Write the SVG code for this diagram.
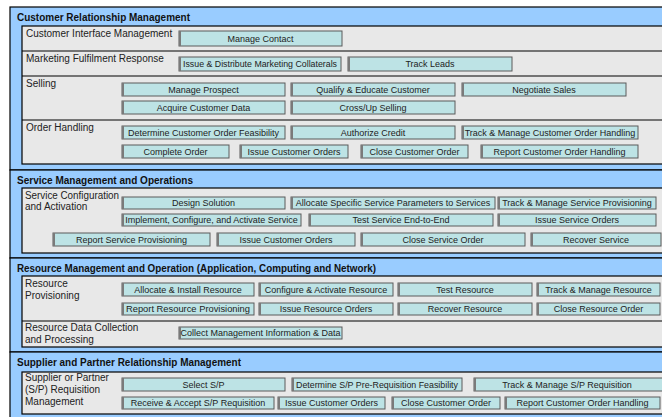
<svg xmlns="http://www.w3.org/2000/svg" width="662" height="417" viewBox="0 0 662 417">
  <style>
    .sec { fill: #99ccff; stroke: #000; stroke-width: 1.2; }
    .inner { fill: #e8e8e8; stroke: #000; stroke-width: 1.2; }
    .sep { stroke: #000; stroke-width: 1.2; }
    .hd { font-family: "Liberation Sans", Arial, sans-serif; font-weight: bold; font-size: 10px; fill: #111; }
    .lb { font-family: "Liberation Sans", Arial, sans-serif; font-size: 10px; fill: #222; }
    .btn rect { fill: #bde3e5; stroke: #5a5a5a; stroke-width: 1; }
    .btn line { stroke: #7a7a7a; stroke-width: 2; }
    .btn text { font-family: "Liberation Sans", Arial, sans-serif; font-size: 9px; fill: #222; text-anchor: middle; }
  </style>

  <!-- section frames -->
  <g id="frames">
    <rect class="sec" x="10" y="7" width="670" height="163"/>
    <rect class="inner" x="22" y="26" width="660" height="138"/>
    <line class="sep" x1="22" y1="51" x2="662" y2="51"/>
    <line class="sep" x1="22" y1="76" x2="662" y2="76"/>
    <line class="sep" x1="22" y1="120" x2="662" y2="120"/>

    <rect class="sec" x="10" y="170" width="670" height="88"/>
    <rect class="inner" x="22" y="188" width="660" height="65"/>

    <rect class="sec" x="10" y="258" width="670" height="94"/>
    <rect class="inner" x="22" y="276" width="660" height="71"/>
    <line class="sep" x1="22" y1="321" x2="662" y2="321"/>

    <rect class="sec" x="10" y="352" width="670" height="70"/>
    <rect class="inner" x="22" y="372" width="660" height="42"/>
  </g>

  <!-- section headings and row labels -->
  <g id="labels">
    <text class="hd" x="17" y="21" textLength="173" lengthAdjust="spacingAndGlyphs">Customer Relationship Management</text>
    <text class="lb" x="26" y="37">Customer Interface Management</text>
    <text class="lb" x="26" y="62">Marketing Fulfilment Response</text>
    <text class="lb" x="26" y="87">Selling</text>
    <text class="lb" x="26" y="131">Order Handling</text>

    <text class="hd" x="17" y="184" textLength="176" lengthAdjust="spacingAndGlyphs">Service Management and Operations</text>
    <text class="lb" x="25" y="199" textLength="94" lengthAdjust="spacingAndGlyphs">Service Configuration</text>
    <text class="lb" x="25" y="210">and Activation</text>

    <text class="hd" x="17" y="272" textLength="359" lengthAdjust="spacingAndGlyphs">Resource Management and Operation (Application, Computing and Network)</text>
    <text class="lb" x="25" y="287">Resource</text>
    <text class="lb" x="25" y="299">Provisioning</text>
    <text class="lb" x="25" y="331">Resource Data Collection</text>
    <text class="lb" x="25" y="343">and Processing</text>

    <text class="hd" x="17" y="366" textLength="224" lengthAdjust="spacingAndGlyphs">Supplier and Partner Relationship Management</text>
    <text class="lb" x="25" y="381">Supplier or Partner</text>
    <text class="lb" x="25" y="393">(S/P) Requisition</text>
    <text class="lb" x="25" y="405">Management</text>
  </g>

  <!-- process boxes: Customer Relationship Management -->
  <g id="crm-manage-contact" class="btn"><rect x="179" y="31" width="163" height="15"/><line x1="180" y1="31" x2="180" y2="46"/><text x="260.5" y="41.5">Manage Contact</text></g>
  <g id="crm-issue-collaterals" class="btn"><rect x="179" y="57" width="162" height="14"/><line x1="180" y1="57" x2="180" y2="71"/><text x="260" y="67" textLength="154" lengthAdjust="spacingAndGlyphs">Issue &amp; Distribute Marketing Collaterals</text></g>
  <g id="crm-track-leads" class="btn"><rect x="348" y="57" width="164" height="14"/><line x1="349" y1="57" x2="349" y2="71"/><text x="430" y="67">Track Leads</text></g>
  <g id="crm-manage-prospect" class="btn"><rect x="122" y="83" width="163" height="13"/><line x1="123" y1="83" x2="123" y2="96"/><text x="203.5" y="92.5">Manage Prospect</text></g>
  <g id="crm-qualify" class="btn"><rect x="291" y="83" width="164" height="13"/><line x1="292" y1="83" x2="292" y2="96"/><text x="373" y="92.5">Qualify &amp; Educate Customer</text></g>
  <g id="crm-negotiate" class="btn"><rect x="462" y="83" width="164" height="13"/><line x1="463" y1="83" x2="463" y2="96"/><text x="544" y="92.5">Negotiate Sales</text></g>
  <g id="crm-acquire-data" class="btn"><rect x="122" y="101" width="163" height="13"/><line x1="123" y1="101" x2="123" y2="114"/><text x="203.5" y="110.5">Acquire Customer Data</text></g>
  <g id="crm-cross-up" class="btn"><rect x="291" y="101" width="164" height="13"/><line x1="292" y1="101" x2="292" y2="114"/><text x="373" y="110.5">Cross/Up Selling</text></g>
  <g id="crm-feasibility" class="btn"><rect x="122" y="126" width="163" height="13"/><line x1="123" y1="126" x2="123" y2="139"/><text x="203.5" y="135.5">Determine Customer Order Feasibility</text></g>
  <g id="crm-authorize" class="btn"><rect x="291" y="126" width="164" height="13"/><line x1="292" y1="126" x2="292" y2="139"/><text x="373" y="135.5">Authorize Credit</text></g>
  <g id="crm-track-order" class="btn"><rect x="462" y="126" width="176" height="13"/><line x1="463" y1="126" x2="463" y2="139"/><text x="550" y="135.5">Track &amp; Manage Customer Order Handling</text></g>
  <g id="crm-complete-order" class="btn"><rect x="122" y="145" width="107" height="13"/><line x1="123" y1="145" x2="123" y2="158"/><text x="175.5" y="154.5">Complete Order</text></g>
  <g id="crm-issue-orders" class="btn"><rect x="240" y="145" width="108" height="13"/><line x1="241" y1="145" x2="241" y2="158"/><text x="294" y="154.5">Issue Customer Orders</text></g>
  <g id="crm-close-order" class="btn"><rect x="361" y="145" width="107" height="13"/><line x1="362" y1="145" x2="362" y2="158"/><text x="414.5" y="154.5">Close Customer Order</text></g>
  <g id="crm-report-order" class="btn"><rect x="481" y="145" width="157" height="13"/><line x1="482" y1="145" x2="482" y2="158"/><text x="559.5" y="154.5">Report Customer Order Handling</text></g>

  <!-- process boxes: Service Management and Operations -->
  <g id="som-design" class="btn"><rect x="122" y="197" width="163" height="12"/><line x1="123" y1="197" x2="123" y2="209"/><text x="203.5" y="206">Design Solution</text></g>
  <g id="som-allocate" class="btn"><rect x="291" y="197" width="204" height="12"/><line x1="292" y1="197" x2="292" y2="209"/><text x="393" y="206">Allocate Specific Service Parameters to Services</text></g>
  <g id="som-track" class="btn"><rect x="498" y="197" width="158" height="12"/><line x1="499" y1="197" x2="499" y2="209"/><text x="577" y="206">Track &amp; Manage Service Provisioning</text></g>
  <g id="som-implement" class="btn"><rect x="122" y="214" width="179" height="12"/><line x1="123" y1="214" x2="123" y2="226"/><text x="211.5" y="223">Implement, Configure, and Activate Service</text></g>
  <g id="som-test" class="btn"><rect x="309" y="214" width="184" height="12"/><line x1="310" y1="214" x2="310" y2="226"/><text x="401" y="223">Test  Service End-to-End</text></g>
  <g id="som-issue-service" class="btn"><rect x="498" y="214" width="158" height="12"/><line x1="499" y1="214" x2="499" y2="226"/><text x="577" y="223">Issue Service Orders</text></g>
  <g id="som-report" class="btn"><rect x="53" y="233" width="157" height="13"/><line x1="54" y1="233" x2="54" y2="246"/><text x="131.5" y="242.5">Report Service Provisioning</text></g>
  <g id="som-issue-customer" class="btn"><rect x="217" y="233" width="138" height="13"/><line x1="218" y1="233" x2="218" y2="246"/><text x="286" y="242.5">Issue Customer Orders</text></g>
  <g id="som-close" class="btn"><rect x="361" y="233" width="164" height="13"/><line x1="362" y1="233" x2="362" y2="246"/><text x="443" y="242.5">Close Service Order</text></g>
  <g id="som-recover" class="btn"><rect x="531" y="233" width="130" height="13"/><line x1="532" y1="233" x2="532" y2="246"/><text x="596" y="242.5">Recover Service</text></g>

  <!-- process boxes: Resource Management and Operation -->
  <g id="rmo-allocate" class="btn"><rect x="122" y="283" width="132" height="13"/><line x1="123" y1="283" x2="123" y2="296"/><text x="188" y="292.5">Allocate &amp; Install Resource</text></g>
  <g id="rmo-configure" class="btn"><rect x="259" y="283" width="134" height="13"/><line x1="260" y1="283" x2="260" y2="296"/><text x="326" y="292.5">Configure &amp; Activate Resource</text></g>
  <g id="rmo-test" class="btn"><rect x="398" y="283" width="134" height="13"/><line x1="399" y1="283" x2="399" y2="296"/><text x="465" y="292.5">Test Resource</text></g>
  <g id="rmo-track" class="btn"><rect x="537" y="283" width="123" height="13"/><line x1="538" y1="283" x2="538" y2="296"/><text x="598.5" y="292.5">Track &amp; Manage Resource</text></g>
  <g id="rmo-report" class="btn"><rect x="122" y="303" width="132" height="12"/><line x1="123" y1="303" x2="123" y2="315"/><text x="188" y="312" textLength="124" lengthAdjust="spacingAndGlyphs">Report Resource Provisioning</text></g>
  <g id="rmo-issue" class="btn"><rect x="259" y="303" width="134" height="12"/><line x1="260" y1="303" x2="260" y2="315"/><text x="326" y="312">Issue Resource Orders</text></g>
  <g id="rmo-recover" class="btn"><rect x="398" y="303" width="134" height="12"/><line x1="399" y1="303" x2="399" y2="315"/><text x="465" y="312">Recover Resource</text></g>
  <g id="rmo-close" class="btn"><rect x="537" y="303" width="123" height="12"/><line x1="538" y1="303" x2="538" y2="315"/><text x="598.5" y="312">Close Resource Order</text></g>
  <g id="rmo-collect" class="btn"><rect x="179" y="327" width="163" height="12"/><line x1="180" y1="327" x2="180" y2="339"/><text x="260.5" y="336">Collect Management Information &amp; Data</text></g>

  <!-- process boxes: Supplier and Partner Relationship Management -->
  <g id="sprm-select" class="btn"><rect x="122" y="378" width="163" height="13"/><line x1="123" y1="378" x2="123" y2="391"/><text x="203.5" y="387.5">Select S/P</text></g>
  <g id="sprm-determine" class="btn"><rect x="292" y="378" width="170" height="13"/><line x1="293" y1="378" x2="293" y2="391"/><text x="377" y="387.5" textLength="162" lengthAdjust="spacingAndGlyphs">Determine S/P Pre-Requisition Feasibility</text></g>
  <g id="sprm-track" class="btn"><rect x="474" y="378" width="192" height="13"/><line x1="475" y1="378" x2="475" y2="391"/><text x="567" y="387.5">Track &amp; Manage S/P Requisition</text></g>
  <g id="sprm-receive" class="btn"><rect x="122" y="397" width="152" height="12"/><line x1="123" y1="397" x2="123" y2="409"/><text x="198" y="406">Receive &amp; Accept  S/P Requisition</text></g>
  <g id="sprm-issue" class="btn"><rect x="278" y="397" width="107" height="12"/><line x1="279" y1="397" x2="279" y2="409"/><text x="331.5" y="406">Issue Customer Orders</text></g>
  <g id="sprm-close" class="btn"><rect x="392" y="397" width="108" height="12"/><line x1="393" y1="397" x2="393" y2="409"/><text x="446" y="406">Close Customer Order</text></g>
  <g id="sprm-report" class="btn"><rect x="505" y="397" width="155" height="12"/><line x1="506" y1="397" x2="506" y2="409"/><text x="582.5" y="406">Report Customer Order Handling</text></g>
</svg>
